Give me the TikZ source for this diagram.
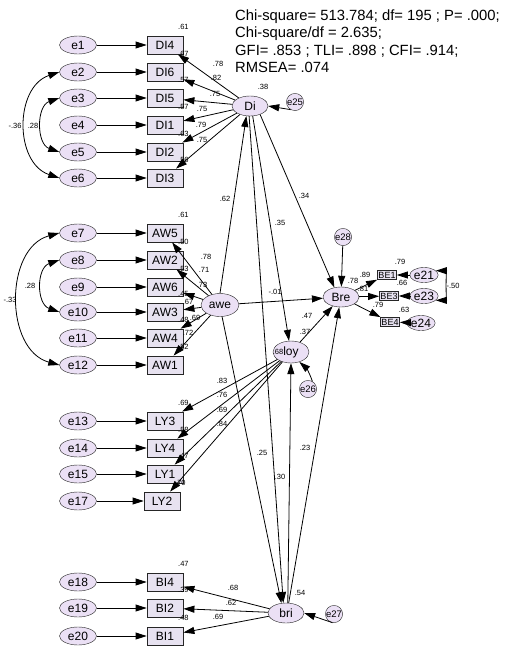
\documentclass[tikz,border=0pt]{standalone}
\usepackage{fontspec}
\setmainfont{Liberation Sans}
\usetikzlibrary{arrows.meta,positioning,shapes.geometric}
\definecolor{ellfill}{RGB}{235,224,245}
\definecolor{boxfill}{RGB}{231,226,240}
\tikzset{
  err/.style={ellipse,draw=black!85,fill=ellfill,minimum width=37pt,minimum height=18pt,inner sep=0pt,font=\fontsize{12}{12}\selectfont},
  obs/.style={rectangle,draw=black!85,thick,fill=boxfill,minimum width=36pt,minimum height=18pt,inner sep=0pt,font=\fontsize{12}{12}\selectfont},
  lat/.style={ellipse,draw=black!85,fill=ellfill,minimum width=36pt,minimum height=20pt,inner sep=0pt,font=\fontsize{12}{12}\selectfont},
  res/.style={circle,draw=black!85,fill=ellfill,minimum size=17pt,inner sep=0pt,font=\fontsize{9.5}{9.5}\selectfont},
  arr/.style={-{Triangle[length=11pt,width=7pt]},line width=0.8pt},
  cov/.style={{Triangle[length=11pt,width=7pt]}-{Triangle[length=11pt,width=7pt]},line width=0.8pt},
  num/.style={font=\fontsize{7.5}{7.5}\selectfont,inner sep=0pt},
}

\begin{document}
\begin{tikzpicture}[x=1pt,y=-1pt]
 \fill[white] (0,0) rectangle (504,656);
 \useasboundingbox (0,0) rectangle (504,656);
 % fit indices
 \node[anchor=north west,align=left,inner sep=0pt,font=\fontsize{14.8}{17.5}\selectfont] (fit) at (235,9.5)
  {Chi-square= 513.784; df= 195 ; P= .000;\\Chi-square/df = 2.635;\\GFI= .853 ; TLI= .898 ; CFI= .914;\\RMSEA= .074};
 % indicators with their errors
 \foreach \ev/\ob/\xx/\yy/\rs in {e1/DI4/165/45/.61,e2/DI6/165/72/.67,e3/DI5/165/98/.57,e4/DI1/165/125/.57,e5/DI2/165/152/.63,e6/DI3/165/178/.56,
   e7/AW5/165/233/.61,e8/AW2/165/260/.50,e9/AW6/165/287/.53,e10/AW3/165/312/.45,e11/AW4/165/338/.48,e12/AW1/165/365/.52,
   e13/LY3/165/421/.69,e14/LY4/165/448/.58,e15/LY1/165/474/.47,e17/LY2/162/501/.70,
   e18/BI4/165/582/.47,e19/BI2/165/608/.39,e20/BI1/165/636/.48} {
  \node[err] (\ev) at (78,\yy) {\ev};
  \node[obs] (\ob) at (\xx,\yy) {\ob};
  \node[num,above=5.5pt of \ob.north east] (r\ob) {\rs};
  \draw[arr] (\ev) -- (\ob);
 }
 % latent variables
 \node[lat] (Di) at (250,106) {Di};
 \node[lat,minimum width=38pt,minimum height=23pt] (awe) at (220,305) {awe};
 \node[lat,minimum height=22pt] (loy) at (291,352) {loy};
 \node[lat] (Bre) at (341,297) {Bre};
 \node[lat] (bri) at (286,613) {bri};
 \node[res] (e25) at (295,102) {e25};
 \node[res] (e26) at (308,389) {e26};
 \node[res] (e27) at (334,614) {e27};
 \node[res] (e28) at (343,237) {e28};
 % Bre indicators
 \node[obs,minimum width=19pt,minimum height=9pt,font=\fontsize{9}{9}\selectfont] (BE1) at (387,275) {BE1};
 \node[obs,minimum width=19pt,minimum height=9pt,font=\fontsize{9}{9}\selectfont] (BE3) at (389,296) {BE3};
 \node[obs,minimum width=19pt,minimum height=9pt,font=\fontsize{9}{9}\selectfont] (BE4) at (390,322) {BE4};
 \node[err,minimum width=27pt,minimum height=15pt] (e21) at (424,275) {e21};
 \node[err,minimum width=27pt,minimum height=15pt] (e23) at (424,296) {e23};
 \node[err,minimum width=27pt,minimum height=15pt] (e24) at (421,323) {e24};
 % loadings
 \foreach \lv/\ob/\cf/\cx/\cy in {Di/DI4/.78/218/64,Di/DI6/.82/216/78,Di/DI5/.75/215/94,Di/DI1/.75/202/109,Di/DI2/.79/201/125,Di/DI3/.75/202/140,
   awe/AW5/.78/206/257,awe/AW2/.71/204/270,awe/AW6/.73/202/285,awe/AW3/.67/188/302,awe/AW4/.69/195/318,awe/AW1/.72/188/333,
   loy/LY3/.83/222/381,loy/LY4/.76/222/395,loy/LY1/.69/222/410,loy/LY2/.84/222/424,
   bri/BI4/.68/233/588,bri/BI2/.62/231/603,bri/BI1/.69/218/617,
   Bre/BE1/.89/365/275,Bre/BE3/.81/363/289,Bre/BE4/.79/378/305} {
  \draw[arr] (\lv) -- (\ob);
  \node[num] (c\ob) at (\cx,\cy) {\cf};
 }
 \draw[arr] (e21) -- (BE1);
 \draw[arr] (e23) -- (BE3);
 \draw[arr] (e24) -- (BE4);
 \node[num] (rBE1) at (400,262) {.79};
 \node[num] (rBE3) at (402,283) {.66};
 \node[num] (rBE4) at (404,310) {.63};
 % structural paths
 \draw[arr] (awe.north) -- (Di.250);
 \draw[arr] (Di.285) -- (loy.100);
 \draw[arr] (Di.265) -- (bri.105);
 \draw[arr] (Di.320) -- (Bre.125);
 \draw[arr] (awe) -- (Bre);
 \draw[arr] (awe.-80) -- (bri.115);
 \draw[arr] (loy) -- (Bre);
 \draw[arr] (bri.80) -- (loy.south);
 \draw[arr] (bri.75) -- (Bre.260);
 \draw[arr] (e25.240) -- (Di.east);
 \draw[arr] (e26.60) to[bend right=15] (loy.-50);
 \draw[arr] (e27.260) -- (bri.east);
 \draw[arr] (e28) -- (Bre);
 \node[num] (p1) at (225,199) {.62};
 \node[num] (p2) at (280,223) {.35};
 \node[num] (p3) at (304,196) {.34};
 \node[num] (p4) at (275,292) {-.01};
 \node[num] (p5) at (307,316) {.47};
 \node[num] (p6) at (262,453) {.25};
 \node[num] (p7) at (280,477) {.30};
 \node[num] (p8) at (305,448) {.23};
 \node[num] (p9) at (278,352) {.68};
 \node[num] (rDi) at (263,87) {.38};
 \node[num] (rloy) at (305,332) {.37};
 \node[num] (rBre) at (353,281) {.78};
 \node[num] (rbri) at (300,593) {.54};
 % covariances
 \draw[cov] (e2.west) .. controls +(-45,15) and +(-45,-15) .. (e6.west);
 \draw[cov] (e3.west) .. controls +(-23,8) and +(-23,-8) .. (e5.west);
 \draw[cov] (e7.west) .. controls +(-55,15) and +(-55,-15) .. (e12.west);
 \draw[cov] (e8.west) .. controls +(-23,8) and +(-23,-8) .. (e10.west);
 \draw[cov] (e21.20) .. controls +(10,0) and +(10,0) .. (e23.-20);
 \node[num] (k1) at (15,126) {-.36};
 \node[num] (k2) at (33,126) {.28};
 \node[num] (k3) at (10,300) {-.33};
 \node[num] (k4) at (30,286) {.28};
 \node[num] (k5) at (453,286) {-.50};
\end{tikzpicture}
\end{document}
